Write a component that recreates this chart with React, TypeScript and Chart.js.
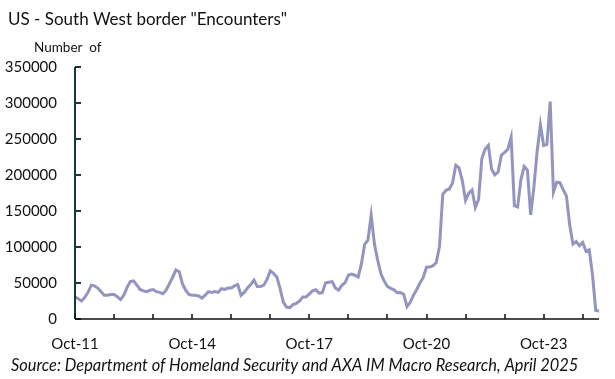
import React, { useEffect, useRef } from 'react';
import { Chart, registerables } from 'chart.js';

Chart.register(...registerables);

// Monthly South West border encounters, by US fiscal year (Oct -> Sep)
const fy2012 = [31000, 28000, 25000, 30000, 37000, 47000, 46000, 43000, 38000, 33000, 33000, 34000];
const fy2013 = [34000, 31000, 27000, 33000, 44000, 52000, 53000, 47000, 41000, 39000, 38000, 40000];
const fy2014 = [41000, 38000, 37000, 35000, 40000, 49000, 58000, 68000, 66000, 49000, 40000, 34000];
const fy2015 = [33000, 33000, 32000, 29000, 33000, 38000, 37000, 38000, 37000, 42000, 41000, 43000];
const fy2016 = [43000, 46000, 48000, 33000, 37000, 43000, 48000, 54000, 45000, 45000, 47000, 55000];
const fy2017 = [66708, 63361, 58409, 42463, 23555, 16600, 15766, 19940, 21659, 25011, 30567, 30568];
const fy2018 = [34869, 39051, 40519, 35905, 36687, 50347, 51168, 51912, 43180, 39953, 46719, 50568];
const fy2019 = [60772, 62469, 60794, 58317, 76545, 103731, 109415, 144116, 104311, 81777, 62707, 52546];
const fy2020 = [45139, 42649, 40565, 36585, 36687, 34460, 17106, 23237, 33049, 40929, 50014, 57674];
const fy2021 = [71929, 72113, 73994, 78414, 101099, 173277, 178795, 180597, 189034, 213593, 209840, 192001];
const fy2022 = [164837, 174845, 179253, 154874, 166010, 222574, 235785, 241136, 207834, 200162, 204087, 227547];
const fy2023 = [231529, 235785, 252315, 157358, 155556, 193249, 211992, 206690, 144556, 183503, 232972, 269735];
const fy2024 = [240934, 242418, 301981, 176205, 189913, 189359, 179737, 170723, 130415, 104101, 107473, 101790];
const fy2025 = [106321, 94190, 96035, 61465, 11709, 11017];

const encounters = [
  ...fy2012, ...fy2013, ...fy2014, ...fy2015, ...fy2016, ...fy2017, ...fy2018,
  ...fy2019, ...fy2020, ...fy2021, ...fy2022, ...fy2023, ...fy2024, ...fy2025,
];

const monthNames = ['Jan', 'Feb', 'Mar', 'Apr', 'May', 'Jun', 'Jul', 'Aug', 'Sep', 'Oct', 'Nov', 'Dec'];
const categories = encounters.map((_, i) => {
  const k = 9 + i; // starts Oct 2011
  const yr = 2011 + Math.floor(k / 12);
  return `${monthNames[k % 12]}-${String(yr % 100).padStart(2, '0')}`;
});

const xTickLabels = ['Oct-11', 'Oct-14', 'Oct-17', 'Oct-20', 'Oct-23'];
const yTickValues = [0, 50000, 100000, 150000, 200000, 250000, 300000, 350000];

const titleText = 'US - South West border "Encounters"';
const unitText = 'Number  of';
const sourceText = 'Source: Department of Homeland Security and AXA IM Macro Research, April 2025';

const FONT = 'Lato, "Open Sans", sans-serif';

const decorPlugin = {
  id: 'decor',
  afterDraw(chart: any) {
    const { ctx, chartArea: a, scales } = chart;
    const x = scales.x;
    const y = scales.y;
    ctx.save();
    // y axis line + inner ticks
    ctx.strokeStyle = '#173838';
    ctx.lineWidth = 2;
    ctx.beginPath();
    ctx.moveTo(a.left, a.top);
    ctx.lineTo(a.left, a.bottom);
    yTickValues.forEach((v) => {
      const py = Math.round(y.getPixelForValue(v));
      ctx.moveTo(a.left, py);
      ctx.lineTo(a.left + 6, py);
    });
    ctx.stroke();
    // x axis line + inner ticks
    ctx.strokeStyle = '#111';
    ctx.lineWidth = 1.5;
    ctx.beginPath();
    ctx.moveTo(a.left, a.bottom);
    ctx.lineTo(a.right, a.bottom);
    categories.forEach((c, i) => {
      if (c.startsWith('Oct')) {
        const px = Math.round(x.getPixelForValue(i));
        ctx.moveTo(px, a.bottom);
        ctx.lineTo(px, a.bottom - 5);
      }
    });
    ctx.stroke();
    // texts
    ctx.fillStyle = '#111';
    ctx.textBaseline = 'alphabetic';
    ctx.textAlign = 'left';
    ctx.font = `17px ${FONT}`;
    ctx.fillText(titleText, 8, 25);
    ctx.font = `13.5px ${FONT}`;
    ctx.fillText(unitText, 34, 52);
    ctx.font = `italic 16.4px ${FONT}`;
    ctx.fillText(sourceText, 11, 371);
    ctx.restore();
  },
};

export default function App() {
  const canvasRef = useRef<HTMLCanvasElement | null>(null);

  useEffect(() => {
    document.body.style.margin = '0';
    const canvas = canvasRef.current;
    if (!canvas) return;
    const chart = new Chart(canvas, {
      type: 'line',
      data: {
        labels: categories,
        datasets: [
          {
            data: encounters,
            borderColor: '#9494c0',
            borderWidth: 3,
            pointRadius: 0,
            tension: 0,
            fill: false,
          },
        ],
      },
      plugins: [decorPlugin],
      options: {
        animation: false,
        responsive: false,
        devicePixelRatio: 1,
        layout: { padding: { top: 67, right: 15, bottom: 20, left: 0 } },
        plugins: { legend: { display: false }, tooltip: { enabled: false }, title: { display: false } },
        scales: {
          x: {
            type: 'category',
            offset: false,
            grid: { display: false, drawTicks: false },
            border: { display: false },
            ticks: {
              autoSkip: false,
              maxRotation: 0,
              minRotation: 0,
              padding: 16,
              color: '#111',
              font: { family: FONT, size: 15 },
              callback: (_v: any, i: number) => (xTickLabels.includes(categories[i]) ? categories[i] : ''),
            },
            afterFit: (s: any) => {
              s.height = 40;
            },
          },
          y: {
            min: 0,
            max: 350000,
            grid: { display: false, drawTicks: false },
            border: { display: false },
            ticks: {
              stepSize: 50000,
              padding: 18,
              color: '#111',
              font: { family: FONT, size: 15 },
              callback: (v: any) => String(v),
            },
            afterFit: (s: any) => {
              s.width = 75;
            },
          },
        },
      },
    });
    return () => chart.destroy();
  }, []);

  return (
    <div style={{ width: 615, height: 379, background: '#fff' }}>
      <canvas ref={canvasRef} width={615} height={379} />
    </div>
  );
}
